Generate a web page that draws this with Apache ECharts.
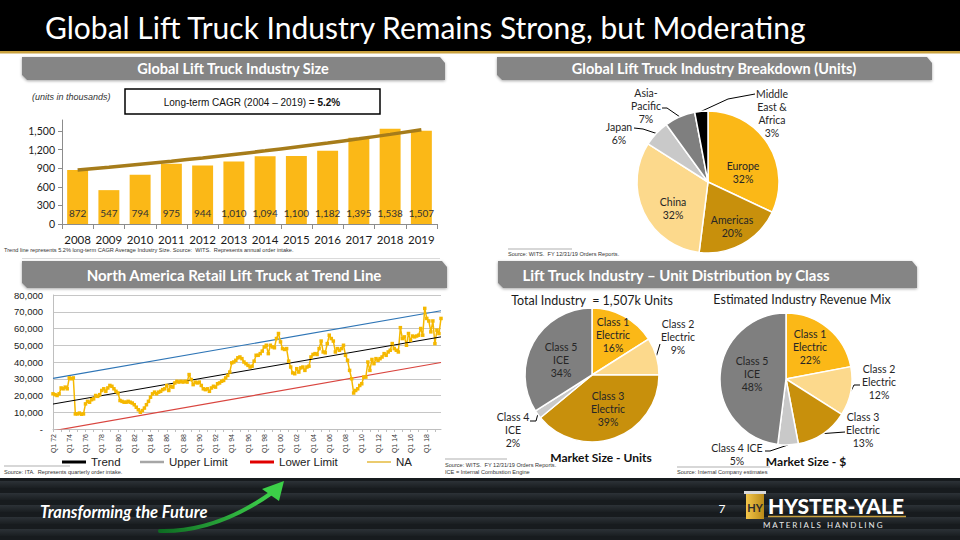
<!DOCTYPE html>
<html>
<head>
<meta charset="utf-8">
<script src="https://cdn.jsdelivr.net/npm/echarts@6/dist/echarts.min.js"></script>
<style>
html,body{margin:0;padding:0;background:#fff;}
#c{width:960px;height:540px;}
</style>
</head>
<body>
<div id="c"></div>
<script>
// ---------------- DATA ----------------
const years = ['2008','2009','2010','2011','2012','2013','2014','2015','2016','2017','2018','2019'];
const industrySize = [872,547,794,975,944,1010,1094,1100,1182,1395,1538,1507];
const cagrTrend = [872,917,965,1015,1068,1124,1182,1244,1308,1376,1448,1523];

const regionLabels = ['Europe','Americas','China','Japan','Asia-\nPacific','Middle\nEast &\nAfrica'];
const regionShare = [32,20,32,6,7,3];

const unitClassLabels = ['Class 1\nElectric','Class 2\nElectric','Class 3\nElectric','Class 4\nICE','Class 5\nICE'];
const unitShare = [16,9,39,2,34];
const revenueClassLabels = ['Class 1\nElectric','Class 2\nElectric','Class 3\nElectric','Class 4 ICE','Class 5\nICE'];
const revenueShare = [22,12,13,5,48];

const quarterYears = ['72','73','74','75','76','77','78','79','80','81','82','83','84','85','86','87','88','89','90','91','92','93','94','95','96','97','98','99','00','01','02','03','04','05','06','07','08','09','10','11','12','13','14','15','16','17','18','19'];
const quarterNames = ['Q1','Q2','Q3','Q4'];
const quarters = [];
quarterYears.forEach(y => quarterNames.forEach(q => quarters.push(q + ' ' + y)));

const naOrders = [
21000,20500,20000,21000, 24500,24000,25000,24000, 30500,30000,30500,9000, 9000,9500,8800,9000,
15000,16500,16000,17500, 18000,20000,19500,20500, 23000,24000,22500,24500, 26000,25500,24000,22500,
21500,17000,16500,16000, 16000,16500,16000,15500, 14500,13000,11500,10000, 11000,12500,14500,16500,
19000,21000,22000,21000, 22000,22500,23500,24000, 26000,23000,25500,25000, 27500,28500,28000,28500,
28000,28500,28000,32500, 29500,26500,28000,27500, 28000,26000,24000,23500, 24000,22500,24500,25500,
25000,27000,27500,28500, 29000,30500,32000,34000, 39500,40000,41000,42500, 43000,42000,40000,39000,
38000,37000,37500,40500, 44000,44000,45000,46500, 49000,50000,45000,50000, 49000,48500,54000,57000,
52000,48000,47500,48000, 40500,37000,33500,33000, 36000,34000,36500,37000, 35000,37000,37500,43000,
44500,45000,44500,48000, 52500,46000,45500,51000, 56000,54000,52500,46000, 48000,47000,48000,50000,
44000,41000,35000,30000, 21500,23000,24000,26000, 27000,31000,31000,40000, 35000,41500,39000,42000,
41000,42000,43000,45000, 44000,46000,47000,51000, 48000,47000,46000,60500, 54000,55000,50000,57000,
53000,55500,55000,55500, 56000,60000,56000,72000, 66000,64500,58000,64500, 51000,59000,57000,66000
];
const trendEnds = [14900, 55000];
const upperEnds = [30200, 70600];
const lowerEnds = [-1100, 39700];

// ---------------- STYLE ----------------
const CAL = 'Lato, "Open Sans", sans-serif';
const ARIAL = '"Liberation Sans", Arial, sans-serif';
const NARROW = '"Liberation Sans Narrow", "Liberation Sans", Arial, sans-serif';
const GOLD = '#FBB817', DARKGOLD = '#C8900C', LIGHTGOLD = '#FCD98C', GRAY = '#7F7F7F', LGRAY = '#C9C9C9';
const regionColors = [GOLD, DARKGOLD, LIGHTGOLD, LGRAY, GRAY, '#000000'];
const classColors = [GOLD, LIGHTGOLD, DARKGOLD, LGRAY, GRAY];
const fmt = v => v.toLocaleString('en-US');

// label placement specs (pixel positions of pie labels)
const topPieLayout = [
  {x:743, y:172}, {x:732, y:226}, {x:673, y:208},
  {x:619, y:133, line:[[643,129],[634,128]]},
  {x:646, y:106, line:[[667,108],[662,108]]},
  {x:772, y:113, line:[[728,99],[755,94]]}
];
const unitPieLayout = [
  {x:613, y:335}, {x:678, y:337, line:[[660,344],[660,344]]}, {x:608, y:409},
  {x:513, y:430, line:[[536,421],[530,421]]}, {x:561, y:360}
];
const revPieLayout = [
  {x:810, y:347}, {x:879, y:382, line:[[854,385],[860,385]]},
  {x:863, y:430, line:[[845,432],[845,432]]},
  {x:737, y:454, line:[[770,451],[765,451]]}, {x:752, y:374}
];
function makeLayout(specs){
  return function(params){
    const s = specs[params.dataIndex];
    const out = {x:s.x, y:s.y, align:'center', verticalAlign:'middle'};
    if (s.line && params.labelLinePoints) {
      out.labelLinePoints = [params.labelLinePoints[0], s.line[0], s.line[1]];
    }
    return out;
  };
}
function pieData(labels, values, colors, specs){
  return labels.map((n,i)=>({
    name: n, value: values[i], itemStyle:{color: colors[i]},
    labelLine:{show: !!specs[i].line}
  }));
}
function pieSeries(center, r, labels, values, colors, specs){
  return {
    type:'pie', center:center, radius:r, startAngle:90, clockwise:true,
    avoidLabelOverlap:false, silent:true,
    data: pieData(labels, values, colors, specs),
    itemStyle:{borderColor:'#fff', borderWidth:1.5},
    label:{show:true, position:'outside', formatter:p=>p.name+'\n'+p.value+'%',
      fontFamily:CAL, fontSize:10.5, lineHeight:13, color:'#262626'},
    labelLine:{lineStyle:{color:'#000', width:1}},
    labelLayout: makeLayout(specs)
  };
}
function legendItem(left, name, color, h){
  return {left:left, top:456, padding:0, itemWidth:24, itemHeight:h, itemGap:0,
    selectedMode:false,
    textStyle:{fontFamily:NARROW, fontSize:11.5, color:'#222'},
    data:[{name:name, icon:'rect', itemStyle:{color:color, borderWidth:0}}]};
}
function headerBar(x1, x2, y1, y2){
  return {type:'polygon', z:1,
    shape:{points:[[x1,y1],[x2-5,y1],[x2,y1+6],[x2,y2],[x1+5,y2],[x1,y2-5]]},
    style:{fill:'#858585', shadowBlur:3, shadowColor:'rgba(0,0,0,0.35)', shadowOffsetY:1}};
}
function txt(x, y, text, o){
  return {type:'text', z:5, style:Object.assign({x:x, y:y, text:text, fill:'#222',
    textAlign:'left', textVerticalAlign:'middle', fontFamily:ARIAL, fontSize:10}, o||{})};
}
function hline(x1, x2, y, color, w){
  return {type:'line', z:4, shape:{x1:x1, y1:y, x2:x2, y2:y}, style:{stroke:color, lineWidth:w||1}};
}

// footer stripes
const footerEls = [{type:'rect', z:0, shape:{x:0, y:478, width:960, height:62}, style:{fill:'#171b1e'}}];
[481, 493, 505, 517, 529].forEach(y => footerEls.push({type:'rect', z:0,
  shape:{x:0, y:y, width:960, height:7},
  style:{fill:new echarts.graphic.LinearGradient(0,0,0,1,[{offset:0,color:'#2c3237'},{offset:1,color:'#1a1e21'}])}}));

const chart = echarts.init(document.getElementById('c'), null, {renderer:'svg', width:960, height:540});
const option = {
  animation:false,
  backgroundColor:'#ffffff',
  grid:[
    {left:62, top:120, width:375, height:104},
    {left:53, top:295, width:388, height:134}
  ],
  xAxis:[
    {gridIndex:0, type:'category', data:years,
      axisLine:{lineStyle:{color:'#8c8c8c'}},
      axisTick:{show:true, length:5, lineStyle:{color:'#8c8c8c'}},
      axisLabel:{interval:0, fontFamily:CAL, fontSize:11.5, color:'#1a1a1a', margin:9}},
    {gridIndex:1, type:'category', data:quarters, boundaryGap:false,
      axisLine:{lineStyle:{color:'#BFBFBF'}},
      axisTick:{show:true, interval:3, length:3, lineStyle:{color:'#BFBFBF'}},
      axisLabel:{interval:7, rotate:90, fontFamily:ARIAL, fontSize:7, color:'#333', margin:5}}
  ],
  yAxis:[
    {gridIndex:0, type:'value', min:0, max:1680, interval:300,
      splitLine:{show:false},
      axisLine:{show:true, lineStyle:{color:'#8c8c8c'}},
      axisTick:{show:true, length:4, lineStyle:{color:'#8c8c8c'}},
      axisLabel:{showMaxLabel:false, fontFamily:CAL, fontSize:10.5, color:'#1a1a1a', margin:7, formatter:fmt}},
    {gridIndex:1, type:'value', min:0, max:80000, interval:10000,
      splitLine:{lineStyle:{color:'#C6C6C6', width:1}},
      axisLine:{show:true, lineStyle:{color:'#BFBFBF'}},
      axisTick:{show:false},
      axisLabel:{fontFamily:ARIAL, fontSize:9.5, color:'#1a1a1a', margin:10,
        formatter:v => v === 0 ? '-' : fmt(v)}}
  ],
  legend:[
    legendItem(62, 'Trend', '#000000', 3),
    legendItem(140, 'Upper Limit', '#A6A6A6', 2.5),
    legendItem(250, 'Lower Limit', '#E00000', 3),
    legendItem(367, 'NA', '#EBCB6E', 2)
  ],
  series:[
    {type:'bar', xAxisIndex:0, yAxisIndex:0, data:industrySize, barCategoryGap:'33%',
      itemStyle:{color:GOLD}, silent:true,
      label:{show:true, position:'insideBottom', distance:6, fontFamily:CAL, fontSize:10,
        color:'#333', formatter:p=>fmt(p.value)}},
    {type:'line', xAxisIndex:0, yAxisIndex:0, data:cagrTrend, smooth:true, symbol:'none',
      lineStyle:{color:'#A67C1A', width:3.5}, z:5, silent:true},

    {type:'line', name:'Upper Limit', xAxisIndex:1, yAxisIndex:1, symbol:'none', silent:true,
      data:[[quarters[0], upperEnds[0]], [quarters[quarters.length-1], upperEnds[1]]],
      lineStyle:{color:'#2E75B6', width:1.2}, itemStyle:{color:'#2E75B6'}},
    {type:'line', name:'Lower Limit', xAxisIndex:1, yAxisIndex:1, symbol:'none', silent:true, clip:true,
      data:[[quarters[0], lowerEnds[0]], [quarters[quarters.length-1], lowerEnds[1]]],
      lineStyle:{color:'#D9453F', width:1.2}, itemStyle:{color:'#D9453F'}},
    {type:'line', name:'NA', xAxisIndex:1, yAxisIndex:1, data:naOrders, silent:true,
      symbol:'rect', symbolSize:3.5, showAllSymbol:true,
      lineStyle:{color:'#F5B800', width:1.5}, itemStyle:{color:'#F5B800'}},
    {type:'line', name:'Trend', xAxisIndex:1, yAxisIndex:1, symbol:'none', silent:true,
      data:[[quarters[0], trendEnds[0]], [quarters[quarters.length-1], trendEnds[1]]],
      lineStyle:{color:'#000000', width:1}, itemStyle:{color:'#000000'}, z:3},

    pieSeries([708,182], 71, regionLabels, regionShare, regionColors, topPieLayout),
    pieSeries([592,375], 67, unitClassLabels, unitShare, classColors, unitPieLayout),
    pieSeries([786,379], 66, revenueClassLabels, revenueShare, classColors, revPieLayout)
  ],
  graphic:[
    // title bar
    {type:'rect', z:0, shape:{x:0, y:0, width:960, height:51}, style:{fill:'#000'}},
    {type:'rect', z:0, shape:{x:0, y:51, width:960, height:2.5}, style:{fill:'#C9A13F'}},
    txt(45, 27, 'Global Lift Truck Industry Remains Strong, but Moderating',
      {fill:'#fff', fontFamily:CAL, fontSize:30}),
    // section headers
    headerBar(22, 445, 57, 80),
    headerBar(497, 932, 57, 80),
    headerBar(22, 447, 261, 288),
    headerBar(498, 917, 261, 288),
    txt(233, 68.5, 'Global Lift Truck Industry Size', {fill:'#fff', fontFamily:CAL, fontSize:14.5, fontWeight:'bold', textAlign:'center'}),
    txt(714, 68.5, 'Global Lift Truck Industry Breakdown (Units)', {fill:'#fff', fontFamily:CAL, fontSize:14.5, fontWeight:'bold', textAlign:'center'}),
    txt(234, 275, 'North America Retail Lift Truck at Trend Line', {fill:'#fff', fontFamily:CAL, fontSize:15, fontWeight:'bold', textAlign:'center'}),
    txt(676, 275, 'Lift Truck Industry \u2013 Unit Distribution by Class', {fill:'#fff', fontFamily:CAL, fontSize:15, fontWeight:'bold', textAlign:'center'}),

    // top-left annotations
    txt(32, 97, '(units in thousands)', {fontStyle:'italic', fontSize:9, fill:'#333'}),
    {type:'rect', z:4, shape:{x:125, y:89, width:255, height:25}, style:{fill:'#fff', stroke:'#000', lineWidth:1.5}},
    {type:'text', z:5, style:{x:252, y:102, textAlign:'center', textVerticalAlign:'middle',
      text:'Long-term CAGR (2004 \u2013 2019) = {b|5.2%}', fontFamily:ARIAL, fontSize:10, fill:'#111',
      rich:{b:{fontFamily:ARIAL, fontSize:10, fontWeight:'bold', fill:'#111'}}}},
    txt(4, 250, 'Trend line represents 5.2% long-term CAGR Average Industry Size. Source:  WITS.  Represents annual order intake.', {fontSize:5.6, fill:'#333', fontFamily:NARROW}),
    hline(22, 440, 258.5, '#DADADA', 1),

    // top-right footnote
    hline(508, 572, 249, '#8c8c8c', 0.7),
    txt(508, 254, 'Source: WITS.  FY 12/31/19 Orders Reports.', {fontSize:5.6, fill:'#333', fontFamily:NARROW}),

    // bottom-right pie titles
    txt(592, 300, 'Total Industry  = 1,507k Units', {fontFamily:CAL, fontSize:12.5, fill:'#1a1a1a', textAlign:'center'}),
    txt(802, 299, 'Estimated Industry Revenue Mix', {fontFamily:CAL, fontSize:12.5, fill:'#1a1a1a', textAlign:'center'}),
    txt(601, 457, 'Market Size - Units', {fontFamily:CAL, fontSize:12, fontWeight:'bold', fill:'#111', textAlign:'center'}),
    txt(806, 461, 'Market Size - $', {fontFamily:CAL, fontSize:12, fontWeight:'bold', fill:'#111', textAlign:'center'}),

    // bottom footnotes
    hline(4, 70, 466, '#8c8c8c', 0.7),
    txt(4, 472, 'Source: ITA.  Represents quarterly order intake.', {fontSize:5.6, fill:'#333', fontFamily:NARROW}),
    hline(445, 507, 459, '#8c8c8c', 0.7),
    txt(445, 465, 'Source: WITS.  FY 12/31/19 Orders Reports.', {fontSize:5.6, fill:'#333', fontFamily:NARROW}),
    txt(445, 472, 'ICE = Internal Combustion Engine', {fontSize:5.6, fill:'#333', fontFamily:NARROW}),
    hline(677, 770, 467, '#8c8c8c', 0.7),
    txt(677, 472, 'Source: Internal Company estimates', {fontSize:5.6, fill:'#333', fontFamily:NARROW}),

    // footer
    ...footerEls,
    txt(40, 512, 'Transforming the Future', {fill:'#fff', fontFamily:CAL, fontSize:16.5, fontWeight:'bold', fontStyle:'italic'}),
    {type:'bezierCurve', z:3, shape:{x1:160, y1:531, cpx1:205, cpy1:532, cpx2:245, cpy2:512, x2:273, y2:492},
      style:{stroke:new echarts.graphic.LinearGradient(0,0,1,0,[{offset:0,color:'#0d6b22'},{offset:1,color:'#3fd24c'}]), lineWidth:4, lineCap:'round', fill:null}},
    {type:'polygon', z:3, shape:{points:[[284,481],[262,489],[279,501]]}, style:{fill:'#3ccf48'}},
    txt(722, 508, '7', {fill:'#fff', fontFamily:CAL, fontSize:12, textAlign:'center'}),
    {type:'rect', z:3, shape:{x:746, y:493, width:18, height:26}, style:{fill:new echarts.graphic.LinearGradient(0,0,1,0,[{offset:0,color:'#F3C64A'},{offset:1,color:'#B98A18'}])}},
    {type:'rect', z:3, shape:{x:744, y:491, width:22, height:3}, style:{fill:'#d9d9d9'}},
    txt(755, 507, 'HY', {fill:'#2b2b2b', fontFamily:CAL, fontSize:11, fontWeight:'bold', textAlign:'center'}),
    txt(768, 505, 'HYSTER-YALE', {fill:'#fff', fontFamily:CAL, fontSize:21, fontWeight:900}),
    hline(768, 906, 516.5, '#C9A13F', 1.5),
    txt(763, 525, 'M A T E R I A L S   H A N D L I N G', {fill:'#e8e8e8', fontFamily:CAL, fontSize:8})
  ]
};
chart.setOption(option);
</script>
</body>
</html>
